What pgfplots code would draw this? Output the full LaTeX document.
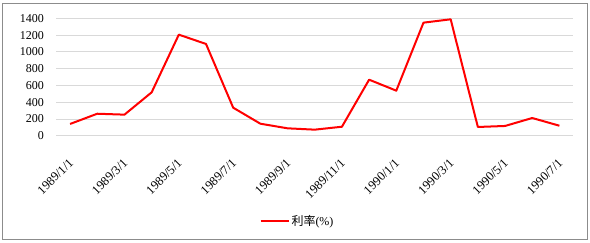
\documentclass[border=0pt]{standalone}
\usepackage{pgfplots}
\pgfplotsset{compat=1.18}
\usepackage{fontspec}
\setmainfont{Liberation Serif}
\newfontfamily\cjk{Noto Sans CJK SC}
\definecolor{gridgray}{HTML}{D9D9D9}
\definecolor{framegray}{HTML}{8C8C8C}
\begin{document}
\begin{tikzpicture}
\useasboundingbox (-56.5pt,-107.3pt) rectangle (533.5pt,135.7pt);
\draw[framegray, line width=1pt] (-53.5pt,-104.3pt) rectangle (530.5pt,131.7pt);
\begin{axis}[
  scale only axis,
  width=516.5pt, height=117.4pt,
  xmin=-0.5, xmax=18.5,
  ymin=0, ymax=1400,
  ytick={0,200,...,1400},
  yticklabel style={/pgf/number format/1000 sep={}},
  xtick={0,2,...,18},
  xticklabels={1989/1/1,1989/3/1,1989/5/1,1989/7/1,1989/9/1,1989/11/1,1990/1/1,1990/3/1,1990/5/1,1990/7/1},
  major x tick style={draw=none},
  extra x ticks={-0.5,1.5,...,17.5},
  extra x tick labels={},
  extra x tick style={tick style={draw=gridgray, line width=0.8pt}, major tick length=4pt, tick align=outside, xmajorgrids=false},
  ymajorgrids, grid style={gridgray, line width=0.8pt},
  major y tick style={draw=none},
  axis x line*=bottom,
  axis y line*=left,
  y axis line style={draw=none},
  x axis line style={draw=gridgray, line width=0.8pt, -},
  tick label style={font=\fontsize{12}{14}\selectfont},
  /pgf/number format/assume math mode=true,
  yticklabel style={xshift=-9pt},
  xticklabel style={rotate=45, anchor=north east, inner sep=1pt, xshift=-15.9pt, yshift=-13pt, font=\fontsize{12.5}{15}\selectfont},
  legend style={at={(0.4666,-0.7266)}, anchor=center, draw=none, fill=none, font=\fontsize{12}{14}\selectfont},
  legend image code/.code={\draw[#1] (0pt,0pt) -- (28pt,0pt);},
  clip=false,
]
\addplot[color=red, line width=2pt, line join=round] coordinates {
(0,140) (1,262) (2,251) (3,517) (4,1205) (5,1094) (6,334) (7,143) (8,88) (9,72)
(10,107) (11,668) (12,537) (13,1348) (14,1388) (15,104) (16,116) (17,211) (18,119)
};
\addlegendentry{{\cjk 利率}(\%)}
\end{axis}
\end{tikzpicture}
\end{document}
